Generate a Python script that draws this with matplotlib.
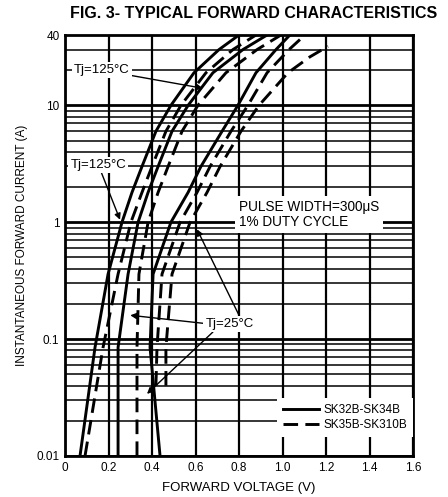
import matplotlib
matplotlib.use("Agg")
import matplotlib.pyplot as plt
from matplotlib.ticker import FixedLocator, NullFormatter

plt.rcParams['font.family'] = ['Liberation Sans', 'DejaVu Sans']

# ---- data ----
current_pts = [0.01, 0.085, 0.36, 1, 1.8, 3, 6, 10, 19, 30, 40]
current_r2 = [0.04, 0.085, 0.36, 1, 1.8, 3, 6, 10, 19, 30, 40]
current_r3 = [0.04, 0.085, 0.36, 1, 1.8, 3, 6, 10, 19, 26, 32]

# Tj = 125 C family
v125_s1 = [0.069, 0.138, 0.198, 0.262, 0.308, 0.354, 0.418, 0.487, 0.593, 0.708, 0.800]
v125_d1 = [0.092, 0.175, 0.244, 0.303, 0.354, 0.400, 0.464, 0.533, 0.648, 0.772, 0.878]
v125_s2 = [0.244, 0.244, 0.290, 0.336, 0.382, 0.428, 0.492, 0.566, 0.680, 0.818, 0.929]
v125_d2 = [0.331, 0.331, 0.340, 0.382, 0.428, 0.474, 0.538, 0.611, 0.740, 0.883, 0.993]
# Tj = 25 C family
v25_s1 = [0.437, 0.391, 0.405, 0.487, 0.566, 0.625, 0.722, 0.795, 0.878, 0.970, 1.034]
v25_d1 = [0.418, 0.423, 0.446, 0.529, 0.607, 0.667, 0.763, 0.841, 0.929, 1.030, 1.103]
v25_d2 = [0.464, 0.464, 0.492, 0.575, 0.653, 0.713, 0.809, 0.892, 1.025, 1.126, 1.209]

x_ticks = [0, 0.2, 0.4, 0.6, 0.8, 1.0, 1.2, 1.4, 1.6]
x_ticklabels = ["0", "0.2", "0.4", "0.6", "0.8", "1.0", "1.2", "1.4", "1.6"]
y_ticks = [0.01, 0.1, 1, 10, 40]
y_ticklabels = ["0.01", "0.1", "1", "10", "40"]
legend_labels = ["SK32B-SK34B", "SK35B-SK310B"]

fig = plt.figure(figsize=(4.48, 4.97), dpi=100)
ax = fig.add_axes([65/448, 1-456/497, (413-65)/448, (456-35)/497])
ax.set_yscale('log')
ax.set_xlim(0, 1.6)
ax.set_ylim(0.01, 40)

# grid
for xv in x_ticks:
    ax.axvline(xv, color='black', lw=1.6, zorder=1)
for dec in [0.01, 0.1, 1, 10]:
    ax.axhline(dec, color='black', lw=2.0, zorder=1)
    for m in range(2, 10):
        v = dec * m
        if v < 40:
            ax.axhline(v, color='black', lw=1.1, zorder=1)

dash = (0, (5, 2.5))
lw = 2.1
ax.plot(v125_s1, current_pts, color='black', lw=lw, zorder=3, label=legend_labels[0])
ax.plot(v125_d1, current_pts, color='black', lw=lw, ls=dash, zorder=3, label=legend_labels[1])
ax.plot(v125_s2, current_pts, color='black', lw=lw, zorder=3)
ax.plot(v125_d2, current_pts, color='black', lw=lw, ls=dash, zorder=3)
ax.plot(v25_s1, current_pts, color='black', lw=lw, zorder=3)
ax.plot(v25_d1, current_r2, color='black', lw=lw, ls=dash, zorder=3)
ax.plot(v25_d2, current_r3, color='black', lw=lw, ls=dash, zorder=3)

for s in ax.spines.values():
    s.set_linewidth(2.0)
    s.set_zorder(5)

ax.xaxis.set_major_locator(FixedLocator(x_ticks))
ax.set_xticklabels(x_ticklabels)
ax.yaxis.set_major_locator(FixedLocator(y_ticks))
ax.set_yticklabels(y_ticklabels)
ax.yaxis.set_minor_formatter(NullFormatter())
ax.tick_params(which='both', length=0, labelsize=8.5, pad=4)

ax.set_xlabel("FORWARD VOLTAGE (V)", fontsize=9.5, labelpad=6)
ax.set_ylabel("INSTANTANEOUS FORWARD CURRENT (A)", fontsize=8.5, labelpad=6)
fig.text(0.567, 1-14/497, "FIG. 3- TYPICAL FORWARD CHARACTERISTICS",
         ha='center', va='center', fontsize=11.5, fontweight='bold')

wb = dict(facecolor='white', edgecolor='none', pad=1.5)
arrow = dict(arrowstyle='-|>', color='black', lw=1.0, mutation_scale=9, shrinkA=0, shrinkB=0)

ax.annotate("Tj=125°C", xy=(0.634, 14.0), xytext=(0.04, 20), fontsize=9.5,
            va='center', ha='left', bbox=wb, arrowprops=arrow, zorder=6)
ax.annotate("Tj=125°C", xy=(0.253, 1.05), xytext=(0.025, 3.1), fontsize=9.5,
            va='center', ha='left', bbox=wb, arrowprops=arrow, zorder=6)
ax.annotate("", xy=(0.607, 0.87), xytext=(0.80, 0.16), arrowprops=arrow, zorder=6)
ax.annotate("", xy=(0.30, 0.16), xytext=(0.66, 0.135), arrowprops=arrow, zorder=6)
ax.annotate("", xy=(0.377, 0.034), xytext=(0.68, 0.115), arrowprops=arrow, zorder=6)
ax.text(0.645, 0.135, "Tj=25°C", fontsize=9.5, va='center', ha='left', bbox=wb, zorder=7)

ax.text(0.80, 1.17, "PULSE WIDTH=300μS\n1% DUTY CYCLE", fontsize=9.8, ha='left', va='center',
        linespacing=1.1, bbox=dict(facecolor='white', edgecolor='none', pad=3), zorder=6)

leg = ax.legend(loc='lower right', bbox_to_anchor=(1.0, 0.045), fontsize=8.5, frameon=True,
                borderaxespad=0, handlelength=3.0, handletextpad=0.4, labelspacing=0.25,
                fancybox=False, borderpad=0.5)
leg.get_frame().set_edgecolor('none')
leg.get_frame().set_facecolor('white')
leg.get_frame().set_alpha(1)
leg.set_zorder(6)

fig.savefig("out.png", dpi=100)
